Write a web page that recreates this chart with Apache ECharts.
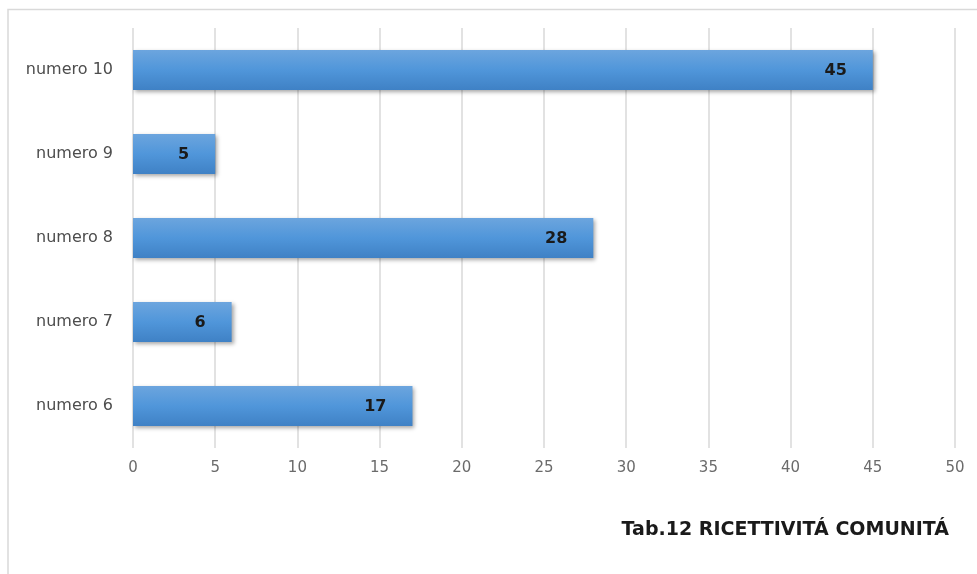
<!DOCTYPE html>
<html>
<head>
<meta charset="utf-8">
<script src="https://cdn.jsdelivr.net/npm/echarts@6/dist/echarts.min.js"></script>
<style>
  html, body { margin: 0; padding: 0; background: #fff; }
  #chart { width: 977px; height: 574px; }
</style>
</head>
<body>
<div id="chart"></div>
<script>
// Structures per comunità, from bottom to top
const categories = ['numero 6', 'numero 7', 'numero 8', 'numero 9', 'numero 10'];
const values = [17, 6, 28, 5, 45];
const xTicks = [0, 5, 10, 15, 20, 25, 30, 35, 40, 45, 50];
const titleText = 'Tab.12 RICETTIVITÁ COMUNITÁ';

const chart = echarts.init(document.getElementById('chart'), null, { renderer: 'canvas' });

chart.setOption({
  backgroundColor: '#ffffff',
  animation: false,
  graphic: [
    {
      type: 'polyline',
      shape: { points: [[8, 574], [8, 9.5], [977, 9.5]] },
      style: { stroke: '#d9d9d9', lineWidth: 1.5, fill: null }
    },
    {
      type: 'text',
      right: 28,
      top: 521,
      style: {
        text: titleText,
        font: 'bold 19px "DejaVu Sans", sans-serif',
        fill: '#1a1a1a'
      }
    }
  ],
  grid: { left: 133, right: 22, top: 28, bottom: 126, containLabel: false },
  xAxis: {
    type: 'value',
    min: xTicks[0],
    max: xTicks[xTicks.length - 1],
    interval: 5,
    axisLine: { show: false },
    axisTick: { show: false },
    splitLine: { show: true, lineStyle: { color: '#d9d9d9', width: 1.5 } },
    axisLabel: {
      color: '#6b6b6b',
      fontSize: 15,
      fontFamily: '"DejaVu Sans", sans-serif',
      margin: 13
    }
  },
  yAxis: {
    type: 'category',
    data: categories,
    axisLine: { show: false },
    axisTick: { show: false },
    axisLabel: {
      color: '#4d4d4d',
      fontSize: 16,
      fontFamily: '"DejaVu Sans", sans-serif',
      margin: 20
    }
  },
  series: [{
    type: 'bar',
    data: values,
    barWidth: 40,
    itemStyle: {
      color: new echarts.graphic.LinearGradient(0, 0, 0, 1, [
        { offset: 0, color: '#6ca5de' },
        { offset: 0.5, color: '#5096da' },
        { offset: 1, color: '#3f81c5' }
      ]),
      shadowColor: 'rgba(0,0,0,0.35)',
      shadowBlur: 4,
      shadowOffsetX: 2,
      shadowOffsetY: 2
    },
    label: {
      show: true,
      position: 'insideRight',
      distance: 26,
      color: '#1a1a1a',
      fontSize: 16,
      fontWeight: 'bold',
      fontFamily: '"DejaVu Sans", sans-serif',
      offset: [0, 1]
    }
  }]
});
</script>
</body>
</html>
